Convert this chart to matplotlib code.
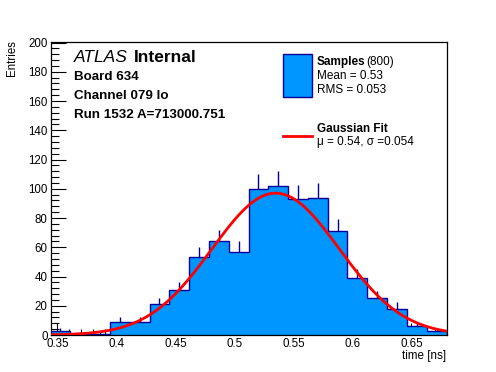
import numpy as np
import matplotlib
matplotlib.use("Agg")
import matplotlib.pyplot as plt
from matplotlib.ticker import MultipleLocator
from matplotlib.patches import Rectangle
from matplotlib.lines import Line2D

plt.rcParams['font.family'] = ['Liberation Sans', 'DejaVu Sans']

# Histogram data
x_min, x_max = 0.3442, 0.6798
counts = [3, 1, 1, 9, 9, 21, 31, 53, 64, 57, 100, 102, 93, 94, 71, 39, 25, 18, 6, 3]
# Gaussian fit parameters
fit_amp = 97.0
fit_mu = 0.535
fit_sigma = 0.054

x_ticks = [0.35, 0.4, 0.45, 0.5, 0.55, 0.6, 0.65]
x_tick_labels = ["0.35", "0.4", "0.45", "0.5", "0.55", "0.6", "0.65"]
y_ticks = [0, 20, 40, 60, 80, 100, 120, 140, 160, 180, 200]

nb = len(counts)
edges = np.linspace(x_min, x_max, nb + 1)
centers = 0.5 * (edges[:-1] + edges[1:])
counts_a = np.array(counts, dtype=float)

W, H = 496, 372
fig = plt.figure(figsize=(W / 100, H / 100), dpi=100)
ax = fig.add_axes([50.5 / W, (H - 335) / H, (446.5 - 50.5) / W, (335 - 41.5) / H])

fill_c = '#0096ff'
edge_c = '#000099'

ax.stairs(counts_a, edges, fill=True, color=fill_c, zorder=2)
ax.stairs(counts_a, edges, fill=False, color=edge_c, lw=1.0, zorder=3)
# error bars (upper part visible)
ax.vlines(centers, counts_a, counts_a + np.sqrt(counts_a), color=edge_c, lw=1.0, zorder=3)

xs = np.linspace(x_min, x_max, 400)
ys = fit_amp * np.exp(-0.5 * ((xs - fit_mu) / fit_sigma) ** 2)
ax.plot(xs, ys, color='#ff0000', lw=2.0, zorder=4)

ax.set_xlim(x_min, x_max)
ax.set_ylim(0, 200.7)
ax.set_xticks(x_ticks)
ax.set_xticklabels(x_tick_labels)
ax.set_yticks(y_ticks)
ax.xaxis.set_minor_locator(MultipleLocator(0.01))
ax.yaxis.set_minor_locator(MultipleLocator(4))
ax.tick_params(axis='both', which='both', direction='in', top=False, right=False,
               labelsize=8.3, colors='black', width=0.8)
ax.tick_params(axis='y', which='major', length=11, pad=2)
ax.tick_params(axis='y', which='minor', length=5.5)
ax.tick_params(axis='x', which='major', length=9, pad=2)
ax.tick_params(axis='x', which='minor', length=4.5)
for s in ax.spines.values():
    s.set_linewidth(0.9)

fig.text(446 / W, (H - 361.5) / H, "time [ns]", ha='right', va='bottom', fontsize=8.4)
fig.text(12 / W, (H - 40) / H, "Entries", rotation=90, ha='center', va='top', fontsize=8.3)

# ATLAS label
fig.text(74 / W, (H - 58) / H, "ATLAS", style='italic', fontsize=12.5, ha='left', va='center')
fig.text(134 / W, (H - 58) / H, "Internal", fontweight='bold', fontsize=12.5, ha='left', va='center')
fig.text(74 / W, (H - 77) / H, "Board 634", fontweight='bold', fontsize=9.6, ha='left', va='center')
fig.text(74 / W, (H - 96) / H, "Channel 079 lo", fontweight='bold', fontsize=9.6, ha='left', va='center')
fig.text(74 / W, (H - 115) / H, "Run 1532 A=713000.751", fontweight='bold', fontsize=9.6, ha='left', va='center')

# Legend
fig.patches.append(Rectangle((283 / W, (H - 96.5) / H), 29 / W, 43 / H, transform=fig.transFigure,
                             facecolor=fill_c, edgecolor=edge_c, lw=1.0))
fig.lines.append(Line2D([283 / W, 312 / W], [(H - 136) / H, (H - 136) / H], transform=fig.transFigure,
                        color='#ff0000', lw=2.0))
fig.text(317 / W, (H - 62) / H, "Samples", fontweight='bold', fontsize=8.5, ha='left', va='center')
fig.text(366 / W, (H - 62) / H, "(800)", fontsize=8.5, ha='left', va='center')
fig.text(317 / W, (H - 76) / H, "Mean = 0.53", fontsize=8.5, ha='left', va='center')
fig.text(317 / W, (H - 90) / H, "RMS = 0.053", fontsize=8.5, ha='left', va='center')
fig.text(317 / W, (H - 129) / H, "Gaussian Fit", fontweight='bold', fontsize=8.5, ha='left', va='center')
fig.text(317 / W, (H - 142) / H, "\u03bc = 0.54, \u03c3 =0.054", fontsize=8.5, ha='left', va='center')

fig.savefig("out.png", dpi=100)
